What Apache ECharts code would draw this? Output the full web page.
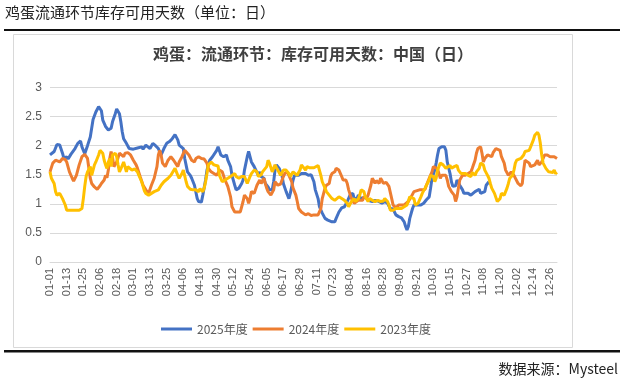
<!DOCTYPE html>
<html><head><meta charset="utf-8">
<script src="https://cdn.jsdelivr.net/npm/echarts@6/dist/echarts.min.js"></script>
<style>html,body{margin:0;padding:0;background:#fff}#c{width:626px;height:386px}</style>
</head><body><div id="c"></div>
<script>
const headerText = '鸡蛋流通环节库存可用天数（单位：日）';
const chartTitle = '鸡蛋：流通环节：库存可用天数：中国（日）';
const sourceText = '数据来源：Mysteel';
const seriesNames = ['2025年度','2024年度','2023年度'];
const monthDays = [31,29,31,30,31,30,31,31,30,31,30,31];
const yTicks = [0, 3, 0.5];
// [day-of-year index, value]
const s2025 = [[0,1.84],[3,1.90],[5,2.02],[7,2.01],[9,1.87],[10,1.78],[12,1.81],[13,1.77],[15,1.85],[18,1.95],[20,2.04],[22,2.08],[23,1.98],[25,1.86],[27,2.00],[29,2.15],[31,2.45],[33,2.58],[35,2.67],[36,2.69],[37,2.60],[38,2.44],[40,2.33],[42,2.27],[44,2.30],[45,2.41],[47,2.55],[48,2.63],[49,2.62],[50,2.55],[51,2.41],[52,2.24],[53,2.12],[55,2.04],[57,1.95],[60,1.94],[63,1.96],[66,1.98],[67,1.94],[69,2.01],[72,1.95],[74,2.04],[76,2.00],[78,1.95],[80,1.84],[82,1.95],[84,2.04],[86,2.07],[88,2.12],[90,2.19],[92,2.10],[93,2.01],[96,1.95],[97,1.78],[99,1.55],[101,1.49],[102,1.44],[104,1.32],[106,1.09],[107,1.04],[109,1.03],[110,1.15],[112,1.41],[113,1.58],[115,1.75],[117,1.81],[120,1.92],[121,1.98],[123,1.84],[125,1.81],[127,1.84],[128,1.75],[130,1.64],[131,1.49],[133,1.32],[134,1.24],[136,1.27],[138,1.35],[139,1.41],[140,1.58],[142,1.81],[143,1.90],[144,1.92],[145,1.72],[147,1.64],[148,1.61],[150,1.49],[151,1.55],[152,1.47],[154,1.44],[155,1.35],[157,1.29],[158,1.24],[160,1.24],[161,1.38],[162,1.58],[163,1.67],[165,1.61],[167,1.49],[168,1.35],[170,1.21],[171,1.15],[172,1.09],[173,1.18],[175,1.41],[176,1.49],[177,1.52],[179,1.49],[181,1.52],[182,1.51],[184,1.52],[186,1.49],[187,1.52],[188,1.50],[190,1.38],[191,1.24],[193,1.09],[194,0.95],[196,0.84],[198,0.75],[200,0.72],[203,0.69],[205,0.69],[206,0.75],[208,0.86],[210,0.93],[212,0.95],[214,1.04],[216,1.15],[218,1.18],[219,1.09],[221,1.09],[222,1.15],[224,1.09],[227,1.12],[229,1.06],[230,1.09],[232,1.04],[234,1.06],[236,1.05],[239,1.01],[241,1.04],[243,1.01],[245,0.92],[246,0.89],[247,0.91],[249,0.81],[250,0.78],[251,0.78],[253,0.76],[255,0.69],[256,0.61],[257,0.55],[258,0.61],[259,0.75],[261,0.92],[262,0.98],[264,0.98],[267,0.98],[269,1.01],[271,1.07],[273,1.12],[274,1.27],[275,1.44],[277,1.58],[278,1.70],[279,1.84],[280,1.95],[282,1.98],[284,1.98],[285,1.92],[286,1.72],[288,1.52],[289,1.38],[290,1.30],[292,1.31],[293,1.41],[294,1.40],[295,1.32],[297,1.24],[298,1.18],[301,1.18],[303,1.15],[304,1.18],[306,1.21],[307,1.24],[309,1.25],[310,1.18],[311,1.16],[313,1.21],[314,1.32],[316,1.38]];
const s2024 = [[0,1.55],[2,1.70],[4,1.75],[7,1.72],[9,1.78],[11,1.76],[12,1.72],[14,1.55],[16,1.44],[17,1.39],[19,1.49],[21,1.67],[23,1.81],[25,1.85],[27,1.78],[29,1.44],[30,1.35],[32,1.29],[34,1.25],[36,1.31],[37,1.35],[39,1.41],[40,1.49],[41,1.45],[42,1.58],[43,1.78],[44,1.90],[45,1.80],[46,1.64],[48,1.72],[50,1.87],[51,1.90],[53,1.81],[54,1.87],[56,1.88],[58,1.84],[60,1.75],[62,1.67],[63,1.61],[65,1.46],[67,1.32],[69,1.24],[71,1.18],[72,1.21],[73,1.32],[75,1.44],[77,1.64],[78,1.84],[79,1.92],[80,1.84],[81,1.70],[83,1.64],[85,1.75],[87,1.81],[89,1.75],[90,1.72],[92,1.64],[93,1.72],[95,1.81],[97,1.92],[98,1.92],[100,1.84],[102,1.75],[104,1.72],[105,1.78],[107,1.81],[109,1.78],[111,1.77],[113,1.70],[114,1.61],[116,1.55],[118,1.52],[120,1.49],[122,1.58],[124,1.55],[126,1.41],[128,1.30],[130,1.12],[131,0.95],[133,0.86],[135,0.86],[137,0.86],[138,0.89],[139,1.04],[140,1.15],[142,1.09],[143,1.01],[144,1.09],[145,1.21],[147,1.18],[149,1.32],[151,1.41],[152,1.35],[153,1.35],[154,1.44],[155,1.35],[156,1.27],[157,1.21],[159,1.15],[160,1.13],[161,1.24],[162,1.38],[163,1.41],[164,1.32],[166,1.34],[167,1.37],[168,1.47],[169,1.52],[171,1.55],[172,1.49],[173,1.46],[174,1.38],[175,1.27],[177,1.15],[178,1.04],[179,0.92],[181,0.86],[182,0.83],[184,0.81],[186,0.83],[188,0.80],[190,0.81],[191,0.78],[193,0.81],[194,0.80],[195,0.92],[196,1.09],[198,1.27],[199,1.32],[201,1.35],[202,1.47],[203,1.52],[205,1.55],[206,1.61],[207,1.64],[208,1.58],[210,1.47],[211,1.41],[213,1.41],[214,1.35],[215,1.24],[217,1.09],[219,1.01],[220,1.04],[222,1.06],[223,1.04],[225,1.06],[226,1.12],[227,1.15],[228,1.10],[229,1.15],[231,1.32],[232,1.44],[233,1.40],[234,1.35],[235,1.40],[237,1.35],[238,1.44],[239,1.40],[240,1.35],[242,1.37],[244,1.30],[246,1.09],[247,0.98],[249,0.93],[251,0.98],[253,0.98],[255,0.98],[256,1.01],[258,1.04],[260,1.12],[262,1.21],[263,1.24],[266,1.24],[268,1.24],[270,1.25],[271,1.32],[273,1.44],[275,1.55],[276,1.64],[277,1.65],[279,1.60],[280,1.52],[281,1.44],[282,1.49],[283,1.50],[285,1.49],[286,1.41],[287,1.30],[288,1.27],[289,1.21],[291,1.15],[292,1.04],[293,1.12],[294,1.27],[295,1.41],[297,1.49],[299,1.49],[301,1.52],[303,1.55],[304,1.61],[306,1.75],[307,1.87],[308,1.95],[310,1.98],[311,1.87],[312,1.72],[313,1.78],[315,1.84],[316,1.83],[318,1.81],[319,1.88],[321,1.95],[322,1.98],[324,1.92],[325,1.81],[327,1.70],[328,1.58],[330,1.49],[331,1.47],[332,1.55],[334,1.49],[335,1.47],[337,1.35],[339,1.31],[340,1.35],[341,1.58],[342,1.75],[343,1.76],[345,1.70],[346,1.64],[347,1.67],[349,1.67],[350,1.70],[351,1.75],[352,1.67],[354,1.72],[355,1.70],[356,1.84],[358,1.84],[360,1.81],[361,1.78],[363,1.81],[365,1.78]];
const s2023 = [[0,1.55],[1,1.44],[3,1.35],[4,1.21],[5,1.15],[7,1.18],[8,1.15],[9,1.09],[11,0.98],[12,0.89],[14,0.89],[18,0.89],[21,0.89],[23,0.92],[24,1.09],[25,1.30],[26,1.47],[27,1.55],[29,1.64],[30,1.49],[31,1.52],[32,1.67],[33,1.72],[35,1.84],[36,1.92],[37,1.95],[38,1.87],[39,1.75],[40,1.67],[41,1.61],[42,1.72],[43,1.78],[44,1.64],[45,1.84],[47,1.87],[48,1.81],[49,1.67],[50,1.55],[51,1.60],[53,1.72],[54,1.64],[55,1.55],[56,1.64],[57,1.61],[59,1.58],[60,1.61],[61,1.60],[63,1.55],[64,1.49],[66,1.38],[67,1.30],[68,1.22],[69,1.18],[71,1.15],[72,1.12],[73,1.18],[74,1.15],[75,1.21],[76,1.18],[78,1.24],[79,1.27],[80,1.32],[81,1.35],[82,1.38],[83,1.35],[85,1.44],[86,1.41],[87,1.49],[88,1.52],[90,1.61],[91,1.58],[92,1.49],[93,1.44],[95,1.52],[96,1.58],[97,1.55],[98,1.38],[99,1.30],[101,1.25],[103,1.24],[105,1.24],[107,1.21],[108,1.26],[110,1.21],[111,1.27],[112,1.38],[113,1.52],[114,1.67],[116,1.72],[118,1.67],[119,1.64],[121,1.65],[122,1.49],[124,1.38],[126,1.41],[128,1.44],[130,1.47],[131,1.49],[133,1.52],[134,1.47],[136,1.44],[138,1.47],[139,1.49],[140,1.47],[142,1.35],[143,1.41],[144,1.47],[145,1.52],[147,1.58],[149,1.55],[150,1.47],[152,1.50],[153,1.55],[154,1.58],[156,1.64],[157,1.75],[158,1.70],[160,1.55],[161,1.58],[162,1.67],[163,1.62],[164,1.58],[166,1.49],[167,1.52],[168,1.58],[169,1.61],[170,1.58],[172,1.52],[173,1.47],[174,1.49],[175,1.55],[176,1.58],[178,1.49],[179,1.54],[180,1.58],[181,1.67],[182,1.64],[184,1.58],[185,1.64],[187,1.62],[188,1.64],[190,1.62],[191,1.64],[193,1.66],[194,1.64],[195,1.49],[196,1.38],[198,1.27],[199,1.21],[201,1.15],[203,1.09],[205,1.06],[206,1.09],[208,1.12],[210,1.09],[212,1.06],[214,1.01],[215,0.95],[216,0.95],[217,1.04],[219,1.09],[220,1.04],[222,1.09],[223,1.15],[224,1.24],[226,1.21],[227,1.12],[229,1.04],[230,1.09],[232,1.06],[234,1.04],[236,1.06],[238,1.04],[240,1.05],[241,1.09],[243,1.04],[244,0.98],[245,0.89],[247,0.89],[249,0.92],[251,0.92],[253,0.92],[255,0.95],[257,0.98],[259,1.12],[260,1.15],[262,1.09],[263,0.98],[265,1.01],[267,1.12],[268,1.18],[270,1.27],[271,1.32],[273,1.41],[274,1.49],[275,1.52],[276,1.47],[277,1.38],[278,1.44],[279,1.58],[280,1.64],[281,1.70],[283,1.67],[285,1.61],[286,1.64],[288,1.66],[289,1.61],[291,1.64],[293,1.66],[294,1.58],[296,1.52],[297,1.49],[299,1.52],[301,1.49],[303,1.47],[304,1.54],[306,1.49],[307,1.55],[309,1.61],[310,1.70],[312,1.67],[313,1.58],[315,1.49],[316,1.44],[317,1.35],[318,1.27],[320,1.18],[322,1.04],[323,1.01],[324,1.09],[325,1.18],[327,1.15],[328,1.21],[329,1.27],[330,1.35],[331,1.44],[333,1.49],[334,1.58],[335,1.70],[336,1.75],[337,1.72],[339,1.78],[340,1.76],[341,1.84],[342,1.90],[343,1.87],[345,1.92],[346,1.98],[347,2.04],[348,2.10],[349,2.18],[351,2.23],[352,2.18],[353,2.04],[354,1.84],[355,1.70],[357,1.61],[359,1.55],[360,1.52],[362,1.54],[363,1.58],[364,1.52],[365,1.54]];

const categories = [];
monthDays.forEach((n, m) => { for (let d = 1; d <= n; d++) categories.push(String(m + 1).padStart(2, '0') + '-' + String(d).padStart(2, '0')); });

const colors = ['#4472C4', '#ED7D31', '#FFC000'];
const font = '"Noto Sans CJK SC", "Noto Sans", sans-serif';
const chart = echarts.init(document.getElementById('c'), null, {renderer: 'canvas'});
const mk = (name, data, i) => ({
  name, type: 'line', data, symbol: 'none', showSymbol: false, smooth: false,
  lineStyle: {width: 3, color: colors[i]}, itemStyle: {color: colors[i]}, z: 2 + i
});
chart.setOption({
  animation: false,
  title: {text: chartTitle, left: 'center', top: 41, textStyle: {fontFamily: font, fontSize: 16, fontWeight: 'bold', color: '#404040'}},
  legend: {top: 318, left: 156, itemWidth: 31, itemHeight: 3, itemGap: 5, icon: 'rect',
    textStyle: {fontFamily: font, fontSize: 12, color: '#595959'}, data: seriesNames},
  grid: {left: 50, right: 69, top: 87.5, bottom: 124, containLabel: false},
  xAxis: {type: 'category', data: categories, boundaryGap: false,
    axisLine: {lineStyle: {color: '#d9d9d9'}}, axisTick: {show: false},
    axisLabel: {interval: 11, rotate: 90, margin: 6, fontSize: 11, color: '#595959', fontFamily: '"Liberation Sans", sans-serif'},
    splitLine: {show: false}},
  yAxis: {type: 'value', min: yTicks[0], max: yTicks[1], interval: yTicks[2],
    axisLine: {show: false}, axisTick: {show: false},
    axisLabel: {margin: 8, fontSize: 12, color: '#595959', fontFamily: '"Liberation Sans", sans-serif'},
    splitLine: {lineStyle: {color: '#d9d9d9', width: 1}}},
  series: [mk(seriesNames[0], s2025, 0), mk(seriesNames[1], s2024, 1), mk(seriesNames[2], s2023, 2)],
  graphic: [
    {type: 'text', left: 5, top: 5, style: {text: headerText, fontFamily: font, fontSize: 15, fill: '#222'}},
    {type: 'rect', shape: {x: 4, y: 29, width: 616, height: 2}, style: {fill: '#111'}, silent: true},
    {type: 'rect', shape: {x: 13.5, y: 34.5, width: 559, height: 313}, style: {fill: 'none', stroke: '#d9d9d9', lineWidth: 1}, silent: true, z: -1},
    {type: 'rect', shape: {x: 4, y: 350, width: 616, height: 2.5}, style: {fill: '#111'}, silent: true},
    {type: 'text', right: 8, top: 362, style: {text: sourceText, fontFamily: font, fontSize: 14, fill: '#222'}}
  ]
});
</script></body></html>
